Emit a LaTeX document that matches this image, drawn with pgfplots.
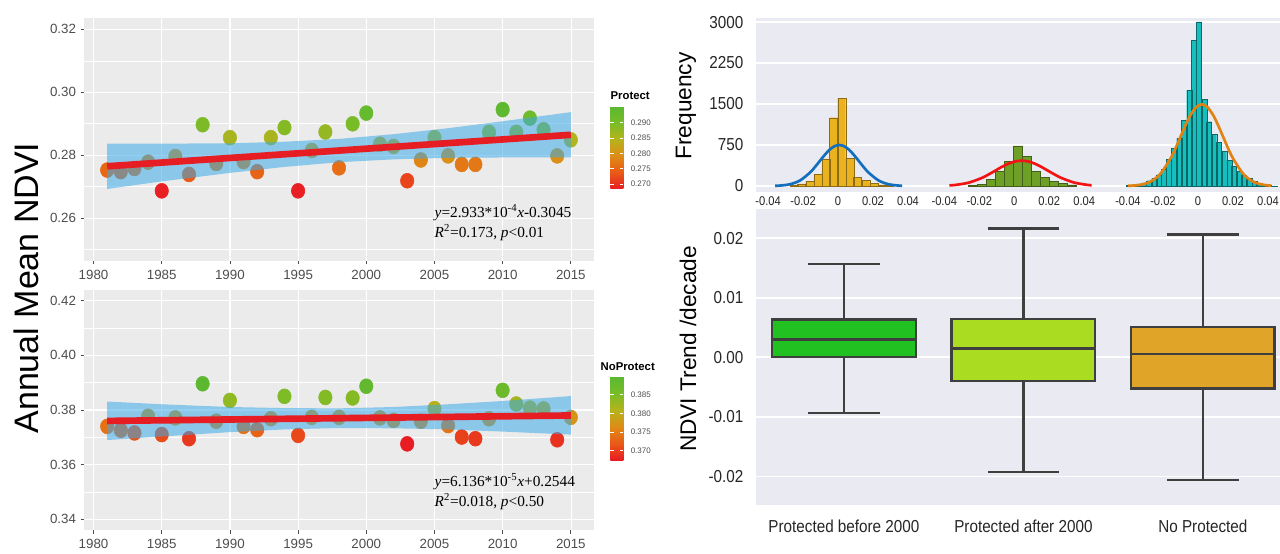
\documentclass[border=0pt]{standalone}
\usepackage{fontspec}
\setmainfont{Liberation Sans}
\newfontfamily\narrow{Liberation Sans}[FakeStretch=0.88]
\newfontfamily\timesf{Liberation Serif}
\usepackage{pgfplots}
\usepackage{pgfplotstable}
\pgfplotsset{compat=1.18}
\usepgfplotslibrary{statistics}

\definecolor{ggbg}{RGB}{235,235,235}
\definecolor{sbbg}{RGB}{234,234,242}
\definecolor{ticktxt}{RGB}{77,77,77}
\definecolor{regred}{RGB}{230,30,36}
\definecolor{bandblue}{RGB}{60,170,230}
\definecolor{boxedge}{RGB}{63,63,63}
\definecolor{boxA}{RGB}{34,193,34}
\definecolor{boxB}{RGB}{170,221,34}
\definecolor{boxC}{RGB}{224,164,40}
\definecolor{histA}{RGB}{235,178,32}
\definecolor{histB}{RGB}{110,160,40}
\definecolor{histC}{RGB}{22,190,190}
\definecolor{curveA}{RGB}{20,110,190}
\definecolor{curveB}{RGB}{240,20,20}
\definecolor{curveC}{RGB}{225,130,20}

\pgfplotstableread{
year ndvi
1981 0.2753
1982 0.2748
1983 0.2758
1984 0.2778
1985 0.2687
1986 0.2796
1987 0.2739
1988 0.2897
1989 0.2774
1990 0.2856
1991 0.2780
1992 0.2748
1993 0.2856
1994 0.2888
1995 0.2687
1996 0.2815
1997 0.2874
1998 0.2760
1999 0.2900
2000 0.2934
2001 0.2835
2002 0.2828
2003 0.2719
2004 0.2785
2005 0.2856
2006 0.2798
2007 0.2771
2008 0.2771
2009 0.2873
2010 0.2945
2011 0.2873
2012 0.2918
2013 0.2881
2014 0.2798
2015 0.2849
}\protectdata

\pgfplotstableread{
year ndvi
1981 0.3740
1982 0.3726
1983 0.3716
1984 0.3777
1985 0.3710
1986 0.3771
1987 0.3695
1988 0.3896
1989 0.3759
1990 0.3835
1991 0.3740
1992 0.3728
1993 0.3768
1994 0.3850
1995 0.3707
1996 0.3773
1997 0.3846
1998 0.3773
1999 0.3844
2000 0.3887
2001 0.3771
2002 0.3762
2003 0.3676
2004 0.3759
2005 0.3805
2006 0.3743
2007 0.3701
2008 0.3695
2009 0.3768
2010 0.3872
2011 0.3822
2012 0.3807
2013 0.3804
2014 0.3691
2015 0.3773
}\noprotectdata

\pgfplotstableread{
x n
-0.0253 15
-0.0208 37
-0.0162 79
-0.0116 214
-0.0070 494
-0.0025 1249
0.0021 1604
0.0067 506
0.0112 152
0.0158 97
0.0204 49
0.0250 18
0.0295 10
}\histAdata

\pgfplotstableread{
x n
-0.0237 8
-0.0186 30
-0.0134 122
-0.0083 262
-0.0031 445
0.0020 732
0.0071 537
0.0123 262
0.0174 159
0.0226 91
0.0277 49
0.0328 18
}\histBdata

\pgfplotstableread{
x n
-0.0393 8
-0.0365 18
-0.0336 37
-0.0308 59
-0.0279 96
-0.0250 139
-0.0222 206
-0.0193 304
-0.0165 487
-0.0136 688
-0.0107 871
-0.0079 1207
-0.0050 1756
-0.0022 2670
0.0007 3005
0.0036 1585
0.0064 1176
0.0093 951
0.0121 793
0.0150 628
0.0179 475
0.0207 353
0.0236 262
0.0264 201
0.0293 139
0.0322 90
0.0350 49
0.0379 24
0.0407 6
0.0436 3
}\histCdata

\pgfplotstableread{
x n
-0.0360 3.5
-0.0329 8.3
-0.0273 32.9
-0.0217 101.5
-0.0161 243.5
-0.0133 343
-0.0105 454.9
-0.0077 566
-0.0049 661.9
-0.0021 726.9
0.0007 750
0.0035 726.9
0.0063 661.9
0.0091 566
0.0119 454.9
0.0147 343
0.0175 243.5
0.0231 101.5
0.0287 32.9
0.0343 8.3
0.0366 4.4
}\curveAdata

\pgfplotstableread{
x n
-0.0371 10.5
-0.0333 20.3
-0.0258 62.6
-0.0183 150.3
-0.0146 212
-0.0108 280.8
-0.0071 349.5
-0.0033 408.6
0.0005 448.7
0.0042 463
0.0080 448.7
0.0117 408.6
0.0155 349.5
0.0192 280.8
0.0230 212
0.0267 150.3
0.0342 62.6
0.0417 20.3
0.0442 13.2
}\curveBdata

\pgfplotstableread{
x n
-0.0400 3.4
-0.0341 16.6
-0.0281 65.6
-0.0220 202.1
-0.0160 485.1
-0.0129 684
-0.0099 906.1
-0.0069 1127.7
-0.0039 1318.5
-0.0008 1448
0.0022 1494
0.0052 1448
0.0083 1318.5
0.0113 1127.7
0.0143 906.1
0.0173 684
0.0204 485.1
0.0264 202.1
0.0325 65.6
0.0385 16.6
0.0420 6.7
}\curveCdata

\pgfplotsset{
  colormap={ndvi}{rgb255=(232,28,36) rgb255=(233,90,22) rgb255=(222,140,22) rgb255=(180,180,28) rgb255=(120,188,40) rgb255=(90,184,50)},
  leftpanel/.style={
    anchor=south west, scale only axis, width=382.5pt,
    xmin=1979.3, xmax=2016.7,
    clip marker paths=true,
    axis background/.style={fill=ggbg},
    axis line style={draw=none},
    xtick={1980,1990,2000,2010}, xticklabels={1980,1990,2000,2010},
    extra x ticks={1985,1995,2005,2015}, extra x tick labels={1985,1995,2005,2015},
    extra x tick style={major grid style={white,line width=0.45pt}},
    xmajorgrids, ymajorgrids, yminorgrids,
    major grid style={white, line width=0.9pt},
    minor grid style={white, line width=0.45pt},
    tick align=outside, xtick pos=left, ytick pos=left,
    major tick length=2.5pt, minor tick length=0pt,
    tick style={draw=ticktxt, line width=0.5pt},
    ticklabel style={font=\fontsize{10}{12}\selectfont, text=ticktxt},
    xticklabel style={yshift=-1pt},
    colormap name=ndvi,
  },
  rightpanel/.style={
    anchor=south west, scale only axis, width=393pt,
    axis background/.style={fill=sbbg},
    axis line style={draw=none},
    major tick length=0pt,
    scaled ticks=false,
    ymajorgrids, major grid style={white, line width=1.4pt},
    yticklabel style={font=\narrow\fontsize{13}{15}\selectfont, text=black!85, xshift=-6pt},
  },
  cbar/.style={
    at={(parent axis.south west)}, anchor=south west,
    scale only axis, width=9.75pt,
    axis line style={draw=none},
    ytick pos=both, yticklabel pos=right,
    major tick length=2.5pt, tick align=inside,
    tick style={draw=white, line width=0.6pt},
    yticklabel style={font=\fontsize{6}{7}\selectfont, text=ticktxt, xshift=2pt},
  },
  scatterpts/.style={scatter, only marks, mark=*, mark size=5.6pt, scatter src=explicit,
    mark options={xscale=0.9},
    scatter/use mapped color={draw=mapped color, fill=mapped color}},
}

\begin{document}
\begin{tikzpicture}
\path[use as bounding box] (0,0) rectangle (960pt,414.75pt);

% ---------- top-left: Protect ----------
\begin{axis}[leftpanel,
  at={(63pt,219.2pt)}, height=181.8pt,
  ymin=0.2465, ymax=0.3235,
  ytick={0.26,0.28,0.30,0.32}, yticklabels={0.26,0.28,0.30,0.32},
  minor ytick={0.25,0.27,0.29,0.31},
  point meta min=0.2684, point meta max=0.2955,
  colorbar,
  colorbar style={cbar,
    xshift=386.25pt, yshift=53.8pt, height=62.25pt,
    ytick={0.270,0.275,0.280,0.285,0.290},
    yticklabels={0.270,0.275,0.280,0.285,0.290},
    title={\textbf{Protect}},
    title style={at={(0,1)}, anchor=south west, inner sep=0pt, yshift=-1.5pt, font=\fontsize{8.5}{10}\selectfont},
  },
]
\addplot[scatterpts] table[x=year, y=ndvi, meta=ndvi] \protectdata;
\addplot[fill=bandblue, fill opacity=0.55, draw=none] coordinates {
  (1981,0.2837)(1985,0.2837)(1990,0.2838)(1994,0.2843)(1998,0.2852)(2002,0.2867)(2006,0.2886)(2010,0.2908)(2015,0.2937)
  (2015,0.2793)(2010,0.2793)(2006,0.2792)(2002,0.2787)(1998,0.2778)(1994,0.2763)(1990,0.2744)(1985,0.2717)(1981,0.2693)} --cycle;
\addplot[regred, line width=5pt] coordinates {(1981,0.2765)(2015,0.2865)};
\node[anchor=west, inner sep=0pt, font=\timesf\fontsize{11.5}{13}\selectfont] at (axis cs:2005,0.2618)
  {\textit{y}=2.933*10\textsuperscript{-4}\textit{x}-0.3045};
\node[anchor=west, inner sep=0pt, font=\timesf\fontsize{11.5}{13}\selectfont] at (axis cs:2005,0.2554)
  {\textit{R}\textsuperscript{2}=0.173, \textit{p}<0.01};
\end{axis}

% ---------- bottom-left: NoProtect ----------
\begin{axis}[leftpanel,
  at={(63pt,17.1pt)}, height=180.3pt,
  ymin=0.336, ymax=0.424,
  ytick={0.34,0.36,0.38,0.40,0.42}, yticklabels={0.34,0.36,0.38,0.40,0.42},
  minor ytick={0.35,0.37,0.39,0.41},
  point meta min=0.3675, point meta max=0.3899,
  colorbar,
  colorbar style={cbar,
    xshift=386.25pt, yshift=52.65pt, height=62.5pt,
    ytick={0.370,0.375,0.380,0.385},
    yticklabels={0.370,0.375,0.380,0.385},
    title={\textbf{NoProtect}},
    title style={at={(0,1)}, anchor=south west, inner sep=0pt, xshift=-7.5pt, yshift=-1.5pt, font=\fontsize{8.5}{10}\selectfont},
  },
]
\addplot[scatterpts] table[x=year, y=ndvi, meta=ndvi] \noprotectdata;
\addplot[fill=bandblue, fill opacity=0.55, draw=none] coordinates {
  (1981,0.3831)(1985,0.3821)(1990,0.3811)(1994,0.3807)(1998,0.3806)(2002,0.3811)(2006,0.3821)(2010,0.3833)(2015,0.3851)
  (2015,0.3710)(2010,0.3721)(2006,0.3729)(2002,0.3733)(1998,0.3734)(1994,0.3729)(1990,0.3719)(1985,0.3703)(1981,0.3690)} --cycle;
\addplot[regred, line width=5pt] coordinates {(1981,0.3760)(2015,0.3780)};
\node[anchor=west, inner sep=0pt, font=\timesf\fontsize{11.5}{13}\selectfont] at (axis cs:2005,0.3539)
  {\textit{y}=6.136*10\textsuperscript{-5}\textit{x}+0.2544};
\node[anchor=west, inner sep=0pt, font=\timesf\fontsize{11.5}{13}\selectfont] at (axis cs:2005,0.3466)
  {\textit{R}\textsuperscript{2}=0.018, \textit{p}<0.50};
\end{axis}

% ---------- histograms ----------
\begin{axis}[rightpanel,
  at={(567pt,271pt)}, height=130pt,
  xmin=-0.0469, xmax=0.2526, ymin=-104, ymax=3068,
  ytick={0,750,1500,2250,3000}, yticklabels={0,750,1500,2250,3000},
  xtick={-0.04,-0.02,0,0.02,0.04,0.0607,0.0807,0.1007,0.1207,0.1407,0.1657,0.1857,0.2057,0.2257,0.2457},
  xticklabels={-0.04,-0.02,0,0.02,0.04,-0.04,-0.02,0,0.02,0.04,-0.04,-0.02,0,0.02,0.04},
  xticklabel style={font=\narrow\fontsize{9.5}{11}\selectfont, text=black!85},
]
\addplot[ybar, bar width=0.00457, bar shift=0pt, fill=histA, draw=histA!60!black, line width=0.3pt]
  table[x expr=\thisrow{x}, y=n] \histAdata;
\addplot[ybar, bar width=0.00514, bar shift=0pt, fill=histB, draw=histB!60!black, line width=0.3pt]
  table[x expr=\thisrow{x}+0.1007, y=n] \histBdata;
\addplot[ybar, bar width=0.00286, bar shift=0pt, fill=histC, draw=histC!55!black, line width=0.3pt]
  table[x expr=\thisrow{x}+0.2057, y=n] \histCdata;
\addplot[curveA, line width=2pt, smooth] table[x expr=\thisrow{x}, y=n] \curveAdata;
\addplot[curveB, line width=2pt, smooth] table[x expr=\thisrow{x}+0.1007, y=n] \curveBdata;
\addplot[curveC, line width=2pt, smooth] table[x expr=\thisrow{x}+0.2057, y=n] \curveCdata;
\end{axis}

% ---------- boxplots ----------
\begin{axis}[rightpanel,
  at={(567pt,36pt)}, height=221.8pt,
  xmin=-0.49, xmax=2.43, ymin=-0.0248, ymax=0.0249,
  ytick={-0.02,-0.01,0,0.01,0.02}, yticklabels={-0.02,-0.01,0.00,0.01,0.02},
  xtick={0,1,2}, xticklabels={Protected before 2000,Protected after 2000,No Protected},
  xticklabel style={font=\narrow\fontsize{13}{15}\selectfont, text=black!85, yshift=-8pt},
  boxplot/draw direction=y,
]
\addplot[fill=boxA, draw=boxedge, line width=1.8pt,
  boxplot prepared={draw position=0, median=0.00303, upper quartile=0.00639, lower quartile=0.0001,
  upper whisker=0.01569, lower whisker=-0.0093, box extend=0.8, whisker extend=0.4}] coordinates {};
\addplot[fill=boxB, draw=boxedge, line width=1.8pt,
  boxplot prepared={draw position=1, median=0.00151, upper quartile=0.00644, lower quartile=-0.00392,
  upper whisker=0.02168, lower whisker=-0.01922, box extend=0.8, whisker extend=0.4}] coordinates {};
\addplot[fill=boxC, draw=boxedge, line width=1.8pt,
  boxplot prepared={draw position=2, median=0.00056, upper quartile=0.00515, lower quartile=-0.00521,
  upper whisker=0.02067, lower whisker=-0.02062, box extend=0.8, whisker extend=0.4}] coordinates {};
\end{axis}

% ---------- axis titles ----------
\node[rotate=90, font=\fontsize{25.5}{30}\selectfont] at (19.5pt,198.75pt) {Annual Mean NDVI};
\node[rotate=90, font=\fontsize{17}{20}\selectfont] at (514.5pt,335.25pt) {Frequency};
\node[rotate=90, font=\fontsize{17}{20}\selectfont] at (516pt,153pt) {NDVI Trend /decade};
\end{tikzpicture}
\end{document}
